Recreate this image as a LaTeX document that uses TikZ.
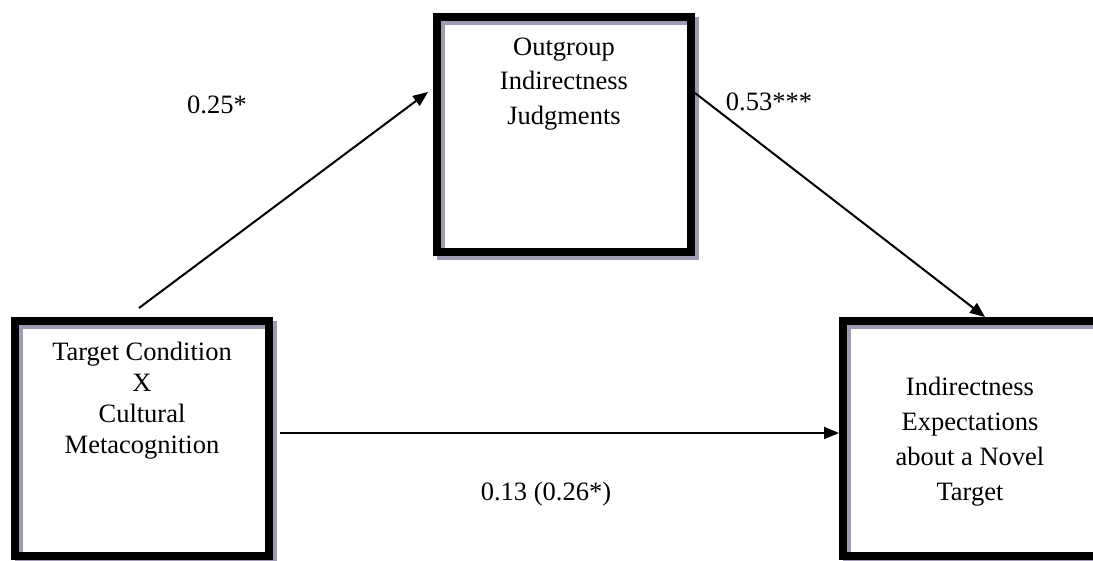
\documentclass[tikz,border=0pt]{standalone}
\usepackage{fontspec}
\setmainfont{Liberation Serif}
\usetikzlibrary{arrows.meta,backgrounds}
\definecolor{shadowgrey}{RGB}{162,154,180}
\begin{document}
\begin{tikzpicture}[x=1pt,y=1pt,
  box/.style={draw=black, line width=8pt, minimum width=254pt, minimum height=235pt, inner sep=0pt, outer sep=0pt},
  shadowframe/.style={draw=shadowgrey, line width=8pt},
  conn/.style={line width=2pt, -{Triangle[length=15pt,width=12pt]}},
  lbl/.style={anchor=base, inner sep=0pt}
]
\useasboundingbox (0,0) rectangle (1093,-560);

% boxes
\node[box] (outgroup) at (564,-134.5) {};
\node[box] (target) at (142,-438.5) {};
\node[box] (expect) at (970,-438.5) {};

\begin{scope}[on background layer]
  \foreach \b in {outgroup,target,expect}{
    \draw[shadowframe] ([shift={(4,-4)}]\b.south west) rectangle ([shift={(4,-4)}]\b.north east);
  }
\end{scope}

% box texts
\node[lbl, font=\fontsize{26.5}{34.5}\selectfont] (outgrouptext) at (564,-55)
  {\begin{tabular}[t]{@{}c@{}}Outgroup\\Indirectness\\Judgments\end{tabular}};
\node[lbl, font=\fontsize{26.5}{31}\selectfont] (targettext) at (142,-360)
  {\begin{tabular}[t]{@{}c@{}}Target Condition\\X\\Cultural\\Metacognition\end{tabular}};
\node[lbl, font=\fontsize{26.5}{35}\selectfont] (expecttext) at (970,-395)
  {\begin{tabular}[t]{@{}c@{}}Indirectness\\Expectations\\about a Novel\\Target\end{tabular}};

% connector ends
\coordinate (a1s) at (139,-308);
\coordinate (a1e) at (428,-92);
\coordinate (a2s) at (695,-93);
\coordinate (a2e) at (985,-317);
\coordinate (a3s) at (280,-433);
\coordinate (a3e) at (839,-433);

\draw[conn] (a1s) -- (a1e);
\draw[conn] (a2s) -- (a2e);
\draw[conn] (a3s) -- (a3e);

% path labels
\node[lbl, font=\fontsize{26.5}{32}\selectfont] (l1) at (217,-113) {0.25*};
\node[lbl, font=\fontsize{26.5}{32}\selectfont] (l2) at (769,-110) {0.53***};
\node[lbl, font=\fontsize{26.5}{32}\selectfont] (l3) at (546,-500) {0.13 (0.26*)};
\end{tikzpicture}
\end{document}
